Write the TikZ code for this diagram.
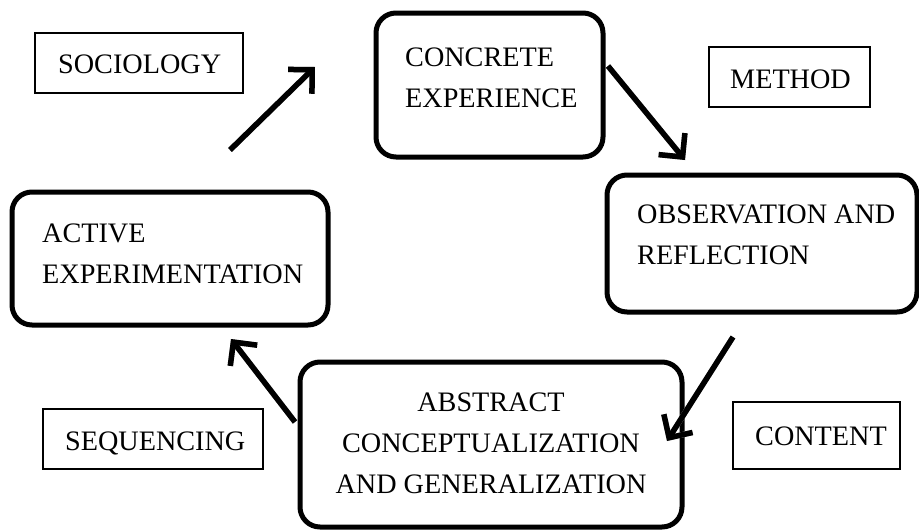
\documentclass[tikz,border=0pt]{standalone}
\usepackage{fontspec}
\setmainfont{Liberation Serif}
\usetikzlibrary{arrows.meta}
\begin{document}
\begin{tikzpicture}[x=1pt,y=-1pt,
  bigbox/.style={draw, line width=5pt, rounded corners=20pt, inner sep=0pt},
  smallbox/.style={draw, line width=1.2pt, inner sep=0pt},
  lbl/.style={inner sep=0pt, font=\fontsize{28.2}{41}\selectfont, align=left, anchor=base west},
  arr/.style={line width=5.5pt, -{Straight Barb[length=17pt,width=34pt]}},
  arrshadow/.style={arr, draw=gray!60, shift={(1.6,1.6)}}]
\useasboundingbox (0,0) rectangle (919,531);
% big boxes
\node[bigbox, minimum width=227, minimum height=144] (ce) at (489.5,85) {};
\node[bigbox, minimum width=310, minimum height=137] (or) at (762,243.5) {};
\node[bigbox, minimum width=316, minimum height=133] (ae) at (170,258.5) {};
\node[bigbox, minimum width=382, minimum height=165] (ac) at (491,444.5) {};
% small boxes
\node[smallbox, minimum width=208, minimum height=60] (so) at (139,63) {};
\node[smallbox, minimum width=161, minimum height=60] (me) at (789.5,77) {};
\node[smallbox, minimum width=220, minimum height=60] (se) at (153,439) {};
\node[smallbox, minimum width=167, minimum height=67] (co) at (816.5,435.5) {};
% texts (base anchor = baseline of last line)
\node[lbl] (ceT) at (405,107) {CONCRETE\\EXPERIENCE};
\node[lbl] (orT) at (637,264) {OBSERVATION AND\\REFLECTION};
\node[lbl] (aeT) at (42,283) {ACTIVE\\EXPERIMENTATION};
\node[lbl, align=center, anchor=base] (acT) at (491,493) {ABSTRACT\\CONCEPTUALIZATION\\AND GENERALIZATION};
\node[lbl] (soT) at (58,73) {SOCIOLOGY};
\node[lbl] (meT) at (730,88) {METHOD};
\node[lbl] (seT) at (65,450) {SEQUENCING};
\node[lbl] (coT) at (755,445) {CONTENT};
% arrow end points
\coordinate (a1s) at (230,150); \coordinate (a1e) at (315,67);
\coordinate (a2s) at (608,66);  \coordinate (a2e) at (685,160);
\coordinate (a3s) at (733,337); \coordinate (a3e) at (667,441);
\coordinate (a4s) at (295,422); \coordinate (a4e) at (231,339);
\foreach \s/\e in {a1s/a1e,a2s/a2e,a3s/a3e,a4s/a4e}{
  \draw[arrshadow] (\s) -- (\e);
  \draw[arr] (\s) -- (\e);
}
\end{tikzpicture}
\end{document}
